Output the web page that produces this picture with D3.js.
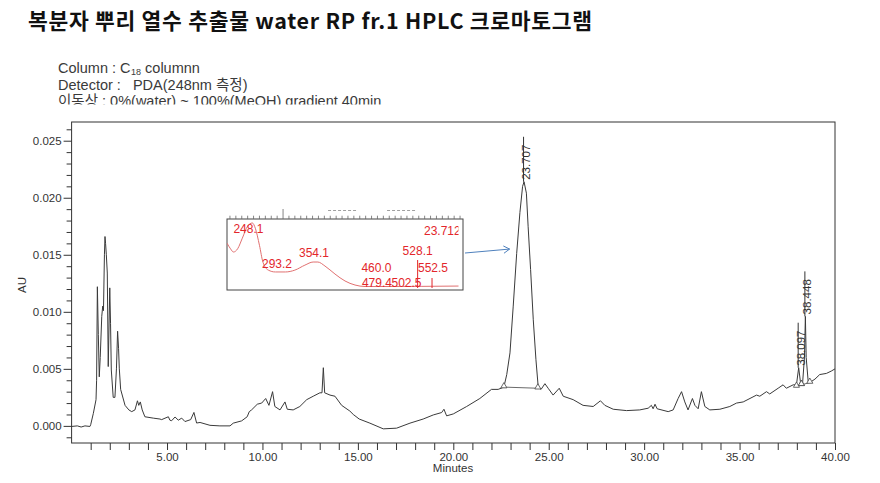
<!DOCTYPE html>
<html><head><meta charset="utf-8">
<script src="https://cdn.jsdelivr.net/npm/d3@7"></script>
<style>
html,body{margin:0;padding:0;background:#fff;}
svg{display:block;}
</style></head>
<body>
<svg id="chart" width="880" height="483"></svg>
<script>
// ---------- data ----------
const titleText = "복분자 뿌리 열수 추출물 water RP fr.1 HPLC 크로마토그램";
const columnText = ["Column : C", "18", " columnn"];
const noteLines = ["Detector :   PDA(248nm 측정)", "이동상 : 0%(water) ~ 100%(MeOH) gradient 40min"];
const xTickValues = d3.range(1, 41);
const yMajorTicks = [0, 0.005, 0.010, 0.015, 0.020, 0.025];
const yMinorTicks = d3.range(-1, 27).map(d => d / 1000);

const times = [0.00,0.30,0.50,0.70,0.96,1.00,1.14,1.28,1.31,1.35,1.40,1.45,1.50,1.58,1.63,1.67,1.72,1.75,1.78,1.82,1.87,1.92,2.00,2.04,2.08,2.18,2.27,2.35,2.41,2.46,2.50,2.57,2.80,3.00,3.15,3.32,3.45,3.52,3.60,3.70,3.84,4.28,4.63,4.72,5.07,5.15,5.24,5.42,5.59,5.77,5.94,6.24,6.41,6.55,6.73,7.25,7.77,8.30,8.47,8.91,9.20,9.31,9.43,9.73,9.96,10.17,10.34,10.53,10.65,10.92,11.18,11.30,11.61,11.96,12.32,12.66,13.01,13.12,13.19,13.26,13.54,13.80,14.15,14.58,14.76,15.07,15.63,16.33,17.03,17.73,18.42,18.95,19.39,19.51,19.65,20.00,20.70,21.39,22.00,22.35,22.65,22.80,22.97,23.14,23.32,23.49,23.63,23.707,23.83,23.92,24.05,24.19,24.33,24.45,24.60,24.80,24.97,25.23,25.55,25.76,26.28,26.80,27.33,27.71,27.94,28.38,29.08,29.77,30.21,30.38,30.47,30.57,30.68,31.26,31.52,31.78,31.96,32.13,32.30,32.53,32.66,32.83,33.00,33.18,33.44,33.97,34.49,34.84,35.19,35.89,36.06,36.41,36.58,37.02,37.28,37.45,37.81,37.98,38.097,38.20,38.30,38.40,38.448,38.49,38.60,38.77,38.95,39.20,39.55,39.80,40.00];
const au = [-0.00005,0.0000,-0.0001,0.0000,-0.00005,0.0001,0.0011,0.0023,0.0040,0.0122,0.0080,0.0043,0.0060,0.0096,0.0105,0.0101,0.0150,0.0166,0.0160,0.0150,0.0134,0.0052,0.0121,0.0090,0.0049,0.0025,0.0025,0.0050,0.0083,0.0068,0.0050,0.0032,0.0018,0.0014,0.00125,0.0014,0.0022,0.0018,0.0021,0.0014,0.0008,0.00068,0.0006,0.00055,0.0008,0.0005,0.00045,0.00078,0.0005,0.00068,0.00038,0.00055,0.00118,0.00025,0.0003,0.00005,0.0000,0.0000,0.00024,0.00044,0.0008,0.00125,0.0014,0.0019,0.0020,0.0024,0.0018,0.0030,0.0017,0.0014,0.0021,0.00146,0.0014,0.0017,0.0023,0.0026,0.0029,0.0029,0.0051,0.0029,0.0027,0.0026,0.0018,0.0013,0.0010,0.0006,0.00024,-0.00026,-0.0002,0.00024,0.0006,0.00096,0.00117,0.00146,0.00088,0.00105,0.0017,0.0024,0.0032,0.0032,0.0034,0.0045,0.0064,0.0105,0.0151,0.0187,0.0210,0.0214,0.0204,0.0175,0.0137,0.0093,0.0058,0.0034,0.0032,0.0037,0.0033,0.0027,0.0033,0.0026,0.0023,0.0018,0.0017,0.0022,0.0018,0.00146,0.00134,0.0014,0.00155,0.0018,0.0015,0.0019,0.0015,0.00125,0.0014,0.0024,0.0030,0.0021,0.0014,0.0024,0.0018,0.0015,0.0030,0.0017,0.0014,0.00146,0.0017,0.0020,0.0021,0.0027,0.0026,0.0030,0.0028,0.0033,0.0036,0.0033,0.0036,0.0036,0.0051,0.0037,0.0037,0.0060,0.0096,0.0060,0.0038,0.0039,0.0041,0.0045,0.0046,0.0048,0.0050];

const peakTimes = [23.707, 38.097, 38.448];
const peakHeights = [0.0214, 0.0051, 0.0096];
const peakLabels = ["23.707", "38.097", "38.448"];
const peakStarts = [[22.65, 0.0034], [37.98, 0.00345], [38.24, 0.0036]];
const peakEnds = [[24.43, 0.0033], [38.24, 0.0036], [38.68, 0.0038]];

// inset UV spectrum of the 23.71 peak
const specNm = [205,211,216,223,231,240,248,253,260,266,275,287,304,320,337,351,359,371,388,405,422,439,464,604];
const specVal = [0.66,0.58,0.535,0.58,0.73,0.90,0.944,0.87,0.63,0.39,0.28,0.254,0.254,0.28,0.35,0.394,0.394,0.338,0.225,0.127,0.07,0.049,0.049,0.056];
const specPeakNm = [248.1, 293.2, 354.1, 460.0, 528.1, 552.5, 479.4, 502.5];
const specLineNm = [528.1, 552.5];
const specTitle = "23.71";
const specTicks = d3.range(210, 601, 10);

// ---------- drawing ----------
const svg = d3.select("#chart");
const defs = svg.append("defs");
const fontKR = "'Noto Sans CJK KR','Noto Sans',sans-serif";
const fontNote = "'Liberation Sans','Noto Sans CJK KR',sans-serif";
const fontAx = "'Liberation Sans',Arial,sans-serif";

svg.append("text").attr("x", 28).attr("y", 28.5)
  .attr("font-family", fontKR).attr("font-weight", 700).attr("font-size", 21.5)
  .attr("textLength", 564).attr("lengthAdjust", "spacing")
  .attr("fill", "#111").text(titleText);

// notes (third line clipped)
defs.append("clipPath").attr("id", "noteClip")
  .append("rect").attr("x", 0).attr("y", 40).attr("width", 880).attr("height", 64.5);
const notes = svg.append("g").attr("clip-path", "url(#noteClip)")
  .attr("font-family", fontNote).attr("font-size", 14.5).attr("fill", "#3a3a3a");
let cx = 58;
columnText.forEach((s, i) => {
  const t = notes.append("text").attr("x", cx).attr("y", i === 1 ? 75 : 72.5)
    .attr("font-size", i === 1 ? 9 : 14.5).attr("xml:space", "preserve").text(s);
  cx += t.node().getComputedTextLength() + (i === 1 ? 0 : 0.5);
});
noteLines.forEach((s, i) => {
  notes.append("text").attr("x", 58).attr("y", 89.5 + i * 16.5).attr("xml:space", "preserve").text(s);
});

const x = d3.scaleLinear().domain([0, 40]).range([71.6, 835]);
const y = d3.scaleLinear().domain([-0.0015, 0.02664]).range([443, 122]);

// frame
svg.append("rect").attr("x", x(0)).attr("y", y(0.02664)).attr("width", x(40) - x(0))
  .attr("height", y(-0.0015) - y(0.02664)).attr("fill", "none").attr("stroke", "#333").attr("stroke-width", 1);

// x axis
const xa = svg.append("g").attr("transform", `translate(0,${y(-0.0015)})`)
  .call(d3.axisBottom(x).tickValues(xTickValues).tickSize(7).tickPadding(3)
    .tickFormat(d => d % 5 === 0 ? d.toFixed(2) : ""));
xa.select(".domain").remove();
xa.selectAll("line").attr("stroke", "#333");
xa.selectAll("text").attr("font-family", fontAx).attr("font-size", 11.5).attr("fill", "#333");

// y axis
const ya = svg.append("g").attr("transform", `translate(${x(0)},0)`)
  .call(d3.axisLeft(y).tickValues(yMajorTicks).tickSize(8).tickPadding(2).tickFormat(d3.format(".3f")));
ya.select(".domain").remove();
ya.selectAll("line").attr("stroke", "#333");
ya.selectAll("text").attr("font-family", fontAx).attr("font-size", 11.5).attr("fill", "#333");
const ym = svg.append("g").attr("transform", `translate(${x(0)},0)`)
  .call(d3.axisLeft(y).tickValues(yMinorTicks.filter(v => !yMajorTicks.some(m => Math.abs(m - v) < 1e-9))).tickSize(5).tickFormat(""));
ym.select(".domain").remove();
ym.selectAll("line").attr("stroke", "#333");

svg.append("text").attr("x", 453).attr("y", 472).attr("text-anchor", "middle")
  .attr("font-family", fontAx).attr("font-size", 11.5).attr("fill", "#333").text("Minutes");
svg.append("text").attr("transform", `translate(26,285) rotate(-90)`).attr("text-anchor", "middle")
  .attr("font-family", fontAx).attr("font-size", 11.5).attr("fill", "#333").text("AU");

// trace
const pts = times.map((t, i) => [t, au[i]]);
svg.append("path").datum(pts)
  .attr("d", d3.line().x(d => x(d[0])).y(d => y(d[1])))
  .attr("fill", "none").attr("stroke", "#3a3a3a").attr("stroke-width", 1);

// integration baselines + triangles
peakTimes.forEach((t, i) => {
  svg.append("line").attr("x1", x(peakStarts[i][0])).attr("y1", y(peakStarts[i][1]))
    .attr("x2", x(peakEnds[i][0])).attr("y2", y(peakEnds[i][1])).attr("stroke", "#444").attr("stroke-width", 0.8);
  [peakStarts[i], peakEnds[i]].forEach(p => {
    svg.append("path").attr("d", d3.symbol(d3.symbolTriangle).size(16)())
      .attr("transform", `translate(${x(p[0])},${y(p[1]) - 1})`)
      .attr("fill", "#fff").attr("stroke", "#444").attr("stroke-width", 0.8);
  });
});
// peak labels
peakTimes.forEach((t, i) => {
  const px = x(t), py = y(peakHeights[i]);
  svg.append("line").attr("x1", px - 0.5).attr("x2", px - 0.5).attr("y1", py).attr("y2", py - 45)
    .attr("stroke", "#333").attr("stroke-width", 1);
  svg.append("text").attr("transform", `translate(${px + 6},${py - 2}) rotate(-90)`)
    .attr("font-family", fontAx).attr("font-size", 11.5).attr("fill", "#333").text(peakLabels[i]);
});

// ---------- inset ----------
const xi = d3.scaleLinear().domain([205, 605]).range([227, 463]);
const yi = d3.scaleLinear().domain([0, 1]).range([290, 219]);
const red = "#e3262b";
const ig = svg.append("g");
ig.append("rect").attr("x", xi(205)).attr("y", yi(1)).attr("width", xi(605) - xi(205)).attr("height", yi(0) - yi(1))
  .attr("fill", "#fff").attr("stroke", "#444").attr("stroke-width", 1);
// top ticks
specTicks.forEach(v => {
  ig.append("line").attr("x1", xi(v)).attr("x2", xi(v)).attr("y1", yi(1)).attr("y2", yi(1) - (v === 300 ? 10 : 3.3))
    .attr("stroke", "#666").attr("stroke-width", 0.8);
});
[400, 500].forEach(v => {
  ig.append("line").attr("x1", xi(v) - 14).attr("x2", xi(v) + 14).attr("y1", yi(1) - 8.5).attr("y2", yi(1) - 8.5)
    .attr("stroke", "#888").attr("stroke-width", 0.8).attr("stroke-dasharray", "3,2");
});
defs.append("clipPath").attr("id", "insetClip")
  .append("rect").attr("x", xi(205)).attr("y", yi(1)).attr("width", xi(605) - xi(205) - 4.5).attr("height", yi(0) - yi(1));
const ic = ig.append("g").attr("clip-path", "url(#insetClip)");
ic.append("path").datum(specNm.map((n, i) => [n, specVal[i]]))
  .attr("d", d3.line().curve(d3.curveMonotoneX).x(d => xi(d[0])).y(d => yi(d[1])))
  .attr("fill", "none").attr("stroke", "#e07070").attr("stroke-width", 1);
specLineNm.forEach((n, i) => {
  ic.append("line").attr("x1", xi(n)).attr("x2", xi(n)).attr("y1", i === 0 ? 260 : 278).attr("y2", 288)
    .attr("stroke", red).attr("stroke-width", 1);
});
const labY = [232.7, 268.3, 256.7, 271.7, 255, 271.7, 287.3, 287.3];
const labDx = [-4, -2, -1, -1, 0, 1, -12, 4];
specPeakNm.forEach((n, i) => {
  ic.append("text").attr("x", xi(n) + labDx[i]).attr("y", labY[i]).attr("text-anchor", "middle")
    .attr("font-family", fontAx).attr("font-size", 12).attr("fill", red).text(n.toFixed(1));
});
ic.append("text").attr("x", 424).attr("y", 235).attr("font-family", fontAx).attr("font-size", 12)
  .attr("fill", red).text(specTitle + "2");

// arrow from inset to main peak
const ax1 = xi(605) + 2, ay1 = 253, ax2 = x(22.95), ay2 = y(0.0155);
svg.append("line").attr("x1", ax1).attr("y1", ay1).attr("x2", ax2).attr("y2", ay2)
  .attr("stroke", "#4f81bd").attr("stroke-width", 1);
const ang = Math.atan2(ay2 - ay1, ax2 - ax1);
[0.55, -0.55].forEach(a => {
  svg.append("line").attr("x1", ax2).attr("y1", ay2)
    .attr("x2", ax2 - 7 * Math.cos(ang + a)).attr("y2", ay2 - 7 * Math.sin(ang + a))
    .attr("stroke", "#4f81bd").attr("stroke-width", 1);
});
</script>
</body></html>
